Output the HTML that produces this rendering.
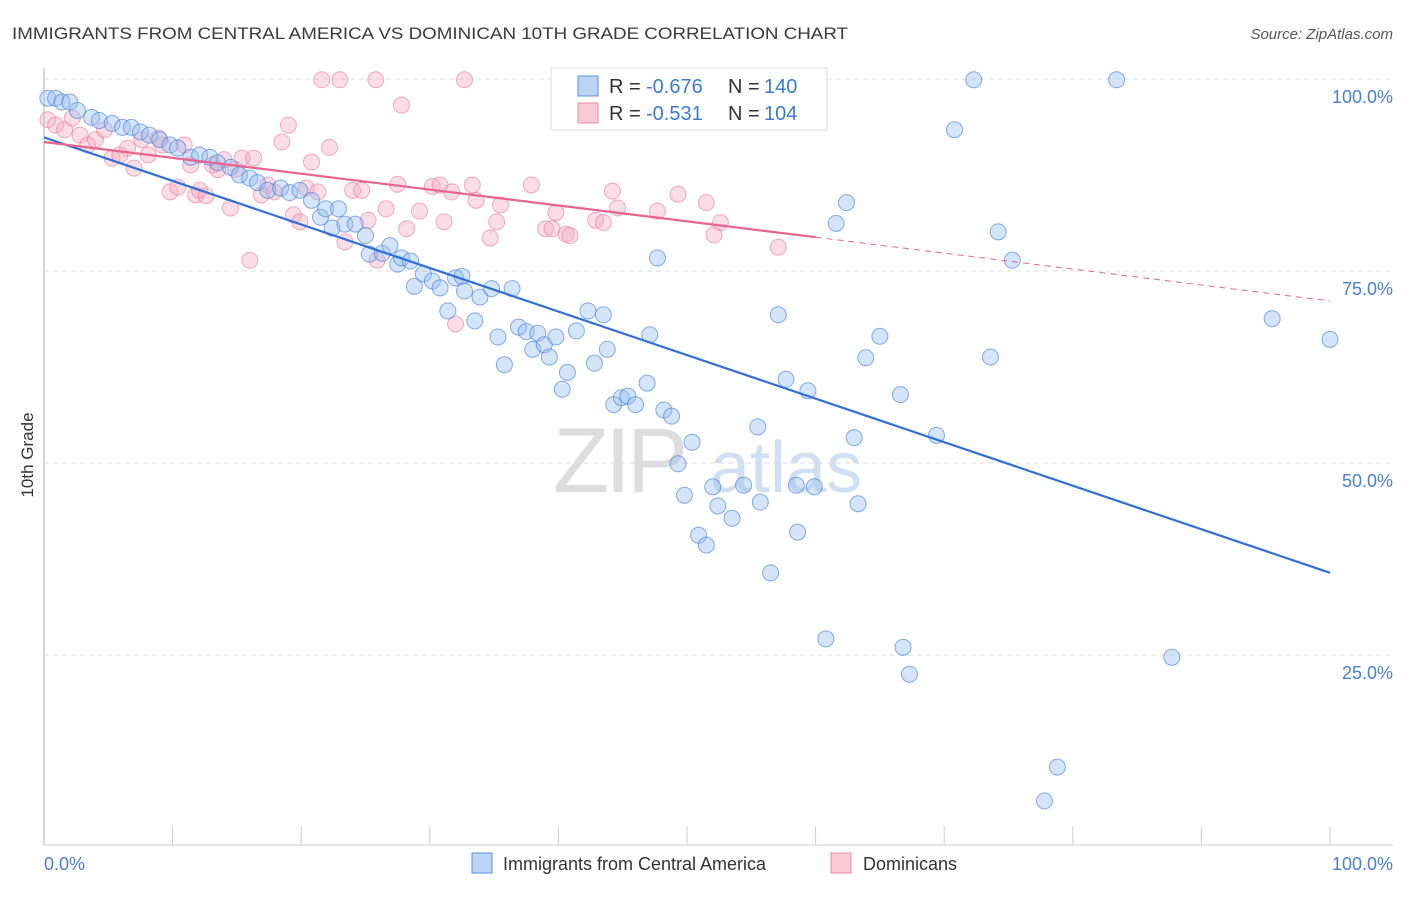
<!DOCTYPE html>
<html><head><meta charset="utf-8"><style>
body{margin:0;background:#fff;font-family:"Liberation Sans",sans-serif;}
svg text{font-family:"Liberation Sans",sans-serif;}
</style></head><body>
<svg width="1406" height="892" viewBox="0 0 1406 892" xmlns="http://www.w3.org/2000/svg">
<text x="12" y="39" font-size="17" fill="#3a3a3a" textLength="836" lengthAdjust="spacingAndGlyphs">IMMIGRANTS FROM CENTRAL AMERICA VS DOMINICAN 10TH GRADE CORRELATION CHART</text>
<text x="1393" y="39" font-size="15" fill="#555" font-style="italic" text-anchor="end">Source: ZipAtlas.com</text>
<g id="grid"></g>
<g><text x="553" y="492" font-size="92" fill="#ddd" font-family="Liberation Serif" letter-spacing="-4">ZIP</text><text x="710" y="492" font-size="72" fill="#cfe0f2">atlas</text></g>
<g id="pts"></g>
<g id="lines"></g>
<text transform="translate(33,455) rotate(-90)" font-size="17" fill="#333" text-anchor="middle">10th Grade</text>
<text x="44" y="870" font-size="18" fill="#4a7fd6">0.0%</text>
<text x="1393" y="870" font-size="18" fill="#4a7fd6" text-anchor="end">100.0%</text>
<g>
<rect x="551" y="68" width="276" height="62" fill="#fff" stroke="#ddd"/>
<rect x="578" y="76" width="20" height="20" fill="#bcd4f5" stroke="#5b8fde"/>
<rect x="578" y="103" width="20" height="20" fill="#f9c9d6" stroke="#ec8aa6"/>
<g font-size="20"><text x="609" y="93" fill="#333">R =</text><text x="646" y="93" fill="#3a7bd5">-0.676</text><text x="728" y="93" fill="#333">N =</text><text x="764" y="93" fill="#3a7bd5">140</text></g>
<g font-size="20"><text x="609" y="120" fill="#333">R =</text><text x="646" y="120" fill="#3a7bd5">-0.531</text><text x="728" y="120" fill="#333">N =</text><text x="764" y="120" fill="#3a7bd5">104</text></g>
</g>
<g>
<rect x="472" y="853" width="20" height="20" fill="#bcd4f5" stroke="#5b8fde"/>
<text x="503" y="870" font-size="18" fill="#333">Immigrants from Central America</text>
<rect x="831" y="853" width="20" height="20" fill="#f9c9d6" stroke="#ec8aa6"/>
<text x="863" y="870" font-size="18" fill="#333">Dominicans</text>
</g>
</svg>
<script>
const yTicks=[100,75,50,25];
const yTickLabels=["100.0%","75.0%","50.0%","25.0%"];
const xTicks=[0,10,20,30,40,50,60,70,80,90,100];
const blueX=[0.3,0.9,1.4,2.0,2.6,3.7,4.3,5.3,6.1,6.8,7.5,8.2,9.0,9.8,10.4,11.4,12.1,12.9,13.5,14.5,15.2,16.0,16.6,17.4,18.4,19.1,19.9,20.8,21.5,21.9,22.9,22.4,23.4,24.2,25.0,25.3,26.3,26.9,27.5,27.8,28.5,28.8,29.5,30.2,30.8,31.4,32.0,32.5,32.7,33.5,33.9,34.8,35.3,35.8,36.4,36.9,37.5,38.0,38.4,38.9,39.3,39.8,40.3,40.7,41.4,42.3,42.8,43.5,43.8,44.3,44.9,45.4,46.0,46.9,47.1,47.7,48.2,48.8,49.3,49.8,50.4,50.9,51.5,52.0,52.4,53.5,54.4,55.5,55.7,56.5,57.1,57.7,58.5,58.6,59.4,59.9,60.8,61.6,62.4,63.0,63.3,63.9,65.0,66.6,66.8,67.3,69.4,70.8,72.3,73.6,74.2,75.3,77.8,78.8,83.4,87.7,95.5,100,54.1];
const blueY=[97.5,97.5,97.0,97.0,95.9,95.0,94.6,94.2,93.7,93.7,93.1,92.7,92.1,91.4,91.0,89.8,90.1,89.8,89.1,88.5,87.5,87.1,86.5,85.5,85.8,85.2,85.5,84.2,82.0,83.1,83.1,80.6,81.1,81.1,79.6,77.2,77.3,78.3,75.9,76.7,76.3,73.0,74.6,73.7,72.8,69.8,74.1,74.3,72.4,68.5,71.6,72.7,66.4,62.8,72.7,67.7,67.1,64.8,66.9,65.4,63.8,66.4,59.6,61.8,67.2,69.8,63.0,69.3,64.8,57.6,58.5,58.7,57.6,60.4,66.7,76.7,56.9,56.1,49.9,45.8,52.7,40.6,39.3,46.9,44.4,42.8,47.1,54.7,44.9,35.7,69.3,60.9,47.1,41.0,59.4,46.9,27.1,81.2,83.9,53.3,44.7,63.7,66.5,58.9,26.0,22.5,53.6,93.4,99.9,63.8,80.1,76.4,6.0,10.4,99.9,24.7,68.8,66.1,99.9];
const pinkX=[0.3,0.9,1.6,2.2,2.8,3.4,4.0,4.7,5.3,5.9,6.5,7.0,7.6,8.1,8.9,9.2,9.8,10.4,10.9,11.4,11.8,12.1,12.6,13.1,13.5,14.0,14.5,14.9,15.4,16.0,16.3,16.9,17.4,17.9,18.5,19.0,19.4,19.9,20.4,20.8,21.3,21.6,22.2,23.0,23.4,24.0,24.7,25.2,25.8,25.9,26.6,27.5,27.8,28.2,29.2,30.2,30.8,31.1,31.7,32.0,32.7,33.3,33.6,34.7,35.2,35.5,37.9,39.0,39.5,39.8,40.6,40.9,42.9,43.5,44.2,44.6,47.7,49.3,51.5,52.1,52.6,57.1];
const pinkY=[94.7,94.0,93.4,94.9,92.7,91.4,92.1,93.4,89.7,90.1,91.0,88.4,92.1,90.1,92.3,91.4,85.3,85.9,91.4,88.8,84.9,85.5,84.8,88.8,88.2,89.5,83.2,88.2,89.7,76.4,89.7,84.9,86.2,85.3,91.8,94.0,82.3,81.4,85.8,89.2,85.3,99.9,91.1,99.9,78.8,85.5,85.5,81.6,99.9,76.4,83.1,86.3,96.6,80.5,82.8,86.0,86.2,81.4,85.3,68.1,99.9,86.2,84.2,79.3,81.4,83.6,86.2,80.5,80.5,82.6,79.8,79.6,81.6,81.3,85.4,83.2,82.8,85.0,83.9,79.7,81.3,78.1];
const blueTrend=[92.4,35.7];
const pinkTrend=[91.8,79.4,71.1];
const NS="http://www.w3.org/2000/svg";
const X=v=>44+v*12.86, Y=v=>847-v*7.68;
function mk(t,a,p){const e=document.createElementNS(NS,t);for(const k in a)e.setAttribute(k,a[k]);p.appendChild(e);return e;}
const grid=document.getElementById('grid');
mk('line',{x1:44,y1:68,x2:44,y2:845,stroke:'#ccc','stroke-width':1.5},grid);
mk('line',{x1:44,y1:845,x2:1393,y2:845,stroke:'#ccc','stroke-width':1},grid);
yTicks.forEach((t,i)=>{
 const g=mk('line',{x1:44,y1:Y(t),x2:1393,y2:Y(t),stroke:'#ddd','stroke-dasharray':'5,4'},grid);
 
 
 const tx=mk('text',{x:1393,y:Y(t)+24,'font-size':18,fill:'#4a7fd6','text-anchor':'end'},grid);
 tx.textContent=yTickLabels[i];
 
 
});
xTicks.forEach(t=>{
 const l=mk('line',{x1:X(t),y1:826,x2:X(t),y2:845,stroke:'#ccc'},grid);
 
 
});
const pts=document.getElementById('pts');
pinkX.forEach((x,i)=>{
 const c=mk('circle',{cx:X(x),cy:Y(pinkY[i]),r:8,fill:'rgba(246,170,192,0.4)',stroke:'rgba(232,120,155,0.6)','stroke-width':1},pts);
 
 
});
blueX.forEach((x,i)=>{
 const c=mk('circle',{cx:X(x),cy:Y(blueY[i]),r:8,fill:'rgba(150,190,240,0.4)',stroke:'rgba(60,120,215,0.6)','stroke-width':1},pts);
 
 
});
const L=document.getElementById('lines');
const bl=mk('line',{x1:X(0),y1:Y(blueTrend[0]),x2:X(100),y2:Y(blueTrend[1]),stroke:'#2f6fd8','stroke-width':2.2},L);


const pl=mk('line',{x1:X(0),y1:Y(pinkTrend[0]),x2:X(60),y2:Y(pinkTrend[1]),stroke:'#e8648c','stroke-width':2.2},L);


const pd=mk('line',{x1:X(60),y1:Y(pinkTrend[1]),x2:X(100),y2:Y(pinkTrend[2]),stroke:'#e8648c','stroke-width':1,'stroke-dasharray':'6,5'},L);


</script>
</body></html>
